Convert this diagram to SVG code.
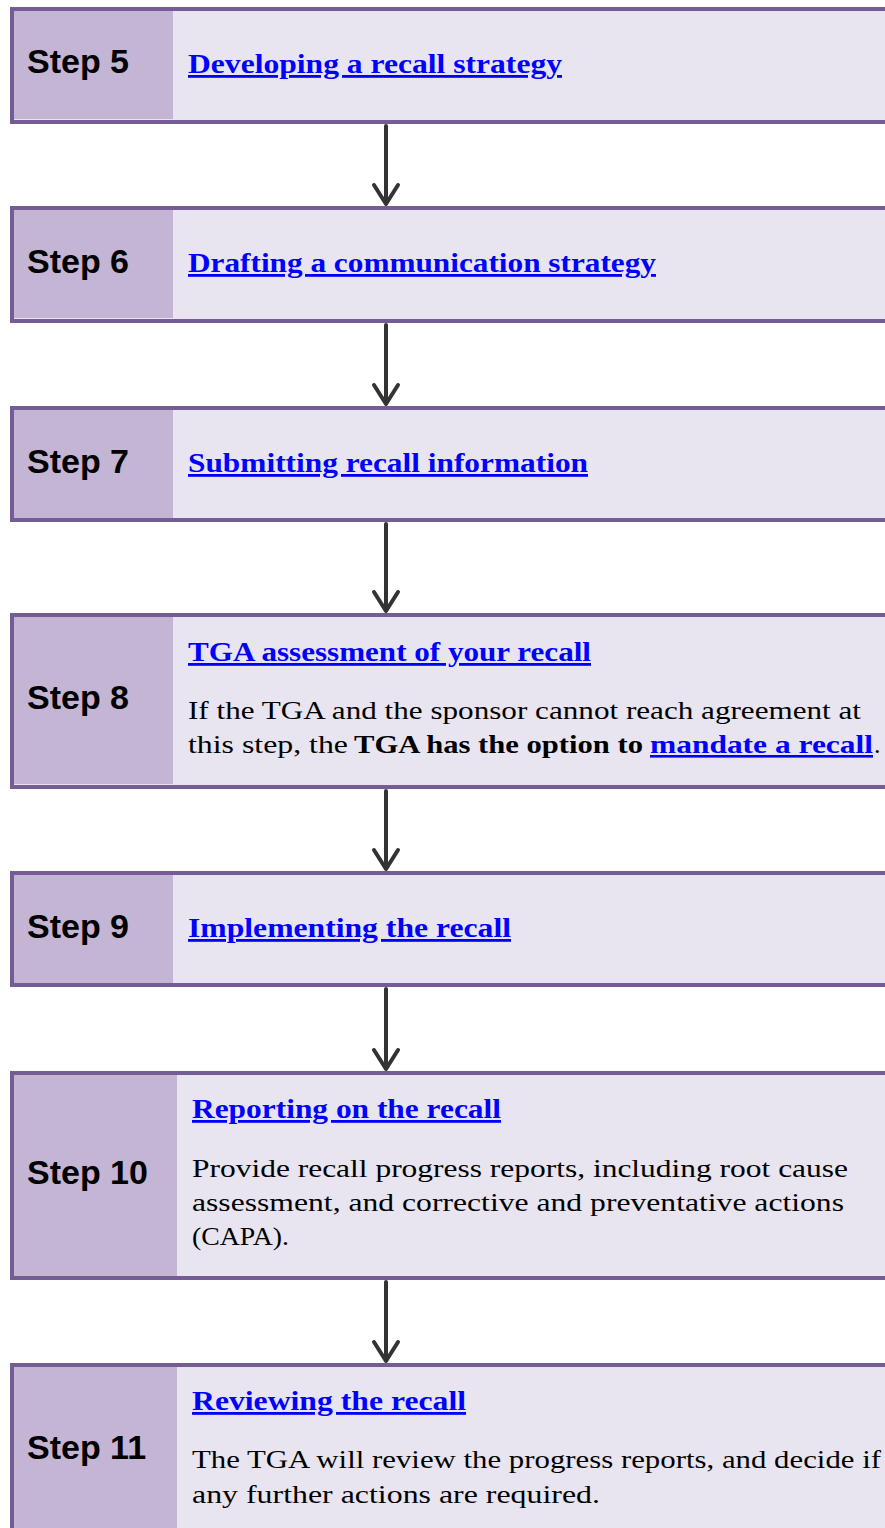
<svg xmlns="http://www.w3.org/2000/svg" width="885" height="1528" viewBox="0 0 885 1528">
<style>
.box{fill:#E8E5F0;stroke:#745C94;stroke-width:4}
.cell{fill:#C3B5D3}
.step{font-family:"Liberation Sans",Arial,sans-serif;font-weight:bold;font-size:34px;fill:#000}
.link{font-family:"Liberation Serif","Times New Roman",serif;font-weight:bold;font-size:28px;fill:#0000FF;text-decoration:underline}
.body{font-family:"Liberation Serif","Times New Roman",serif;font-size:26px;fill:#000}
.b{font-weight:bold}
.lk{font-weight:bold;fill:#0000FF;text-decoration:underline}
.arr{fill:none;stroke:#333333;stroke-width:4;stroke-linecap:round;stroke-linejoin:round}
</style>
<rect width="885" height="1528" fill="#FFFFFF"/>
<g id="connectors">
<path class="arr" d="M386 126V204M374 185L386 204L398 185"/>
<path class="arr" d="M386 325V404M374 385L386 404L398 385"/>
<path class="arr" d="M386 524V611M374 592L386 611L398 592"/>
<path class="arr" d="M386 791V869M374 850L386 869L398 850"/>
<path class="arr" d="M386 989V1069M374 1050L386 1069L398 1050"/>
<path class="arr" d="M386 1282V1361M374 1342L386 1361L398 1342"/>
</g>
<g id="step5">
<rect class="box" x="12" y="9" width="880" height="113"/>
<rect class="cell" x="14" y="11" width="159" height="108"/>
<text class="step" x="27" y="73">Step 5</text>
<text class="link" x="188" y="73" textLength="374" lengthAdjust="spacingAndGlyphs">Developing a recall strategy</text>
</g>
<g id="step6">
<rect class="box" x="12" y="208" width="880" height="113"/>
<rect class="cell" x="14" y="210" width="159" height="108"/>
<text class="step" x="27" y="273">Step 6</text>
<text class="link" x="188" y="272" textLength="468" lengthAdjust="spacingAndGlyphs">Drafting a communication strategy</text>
</g>
<g id="step7">
<rect class="box" x="12" y="408" width="880" height="112"/>
<rect class="cell" x="14" y="410" width="159" height="108"/>
<text class="step" x="27" y="473">Step 7</text>
<text class="link" x="188" y="472" textLength="400" lengthAdjust="spacingAndGlyphs">Submitting recall information</text>
</g>
<g id="step8">
<rect class="box" x="12" y="615" width="880" height="172"/>
<rect class="cell" x="14" y="617" width="159" height="167"/>
<text class="step" x="27" y="709">Step 8</text>
<text class="link" x="188" y="661" textLength="403" lengthAdjust="spacingAndGlyphs">TGA assessment of your recall</text>
<text class="body" x="188" y="719" textLength="673" lengthAdjust="spacingAndGlyphs">If the TGA and the sponsor cannot reach agreement at</text>
<text class="body" y="753"><tspan x="188" textLength="160" lengthAdjust="spacingAndGlyphs">this step, the</tspan><tspan class="b" x="354" textLength="289" lengthAdjust="spacingAndGlyphs">TGA has the option to</tspan><tspan class="lk" x="650" textLength="223" lengthAdjust="spacingAndGlyphs">mandate a recall</tspan><tspan x="874">.</tspan></text>
</g>
<g id="step9">
<rect class="box" x="12" y="873" width="880" height="112"/>
<rect class="cell" x="14" y="875" width="159" height="108"/>
<text class="step" x="27" y="938">Step 9</text>
<text class="link" x="188" y="937" textLength="323" lengthAdjust="spacingAndGlyphs">Implementing the recall</text>
</g>
<g id="step10">
<rect class="box" x="12" y="1073" width="880" height="205"/>
<rect class="cell" x="14" y="1075" width="163" height="201"/>
<text class="step" x="27" y="1184">Step 10</text>
<text class="link" x="192" y="1118" textLength="309" lengthAdjust="spacingAndGlyphs">Reporting on the recall</text>
<text class="body" x="192" y="1177" textLength="656" lengthAdjust="spacingAndGlyphs">Provide recall progress reports, including root cause</text>
<text class="body" x="192" y="1211" textLength="652" lengthAdjust="spacingAndGlyphs">assessment, and corrective and preventative actions</text>
<text class="body" x="192" y="1245" textLength="97" lengthAdjust="spacingAndGlyphs">(CAPA).</text>
</g>
<g id="step11">
<rect class="box" x="12" y="1365" width="880" height="200"/>
<rect class="cell" x="14" y="1367" width="163" height="170"/>
<text class="step" x="27" y="1459">Step 11</text>
<text class="link" x="192" y="1410" textLength="274" lengthAdjust="spacingAndGlyphs">Reviewing the recall</text>
<text class="body" x="192" y="1468" textLength="689" lengthAdjust="spacingAndGlyphs">The TGA will review the progress reports, and decide if</text>
<text class="body" x="192" y="1503" textLength="408" lengthAdjust="spacingAndGlyphs">any further actions are required.</text>
</g>
</svg>
